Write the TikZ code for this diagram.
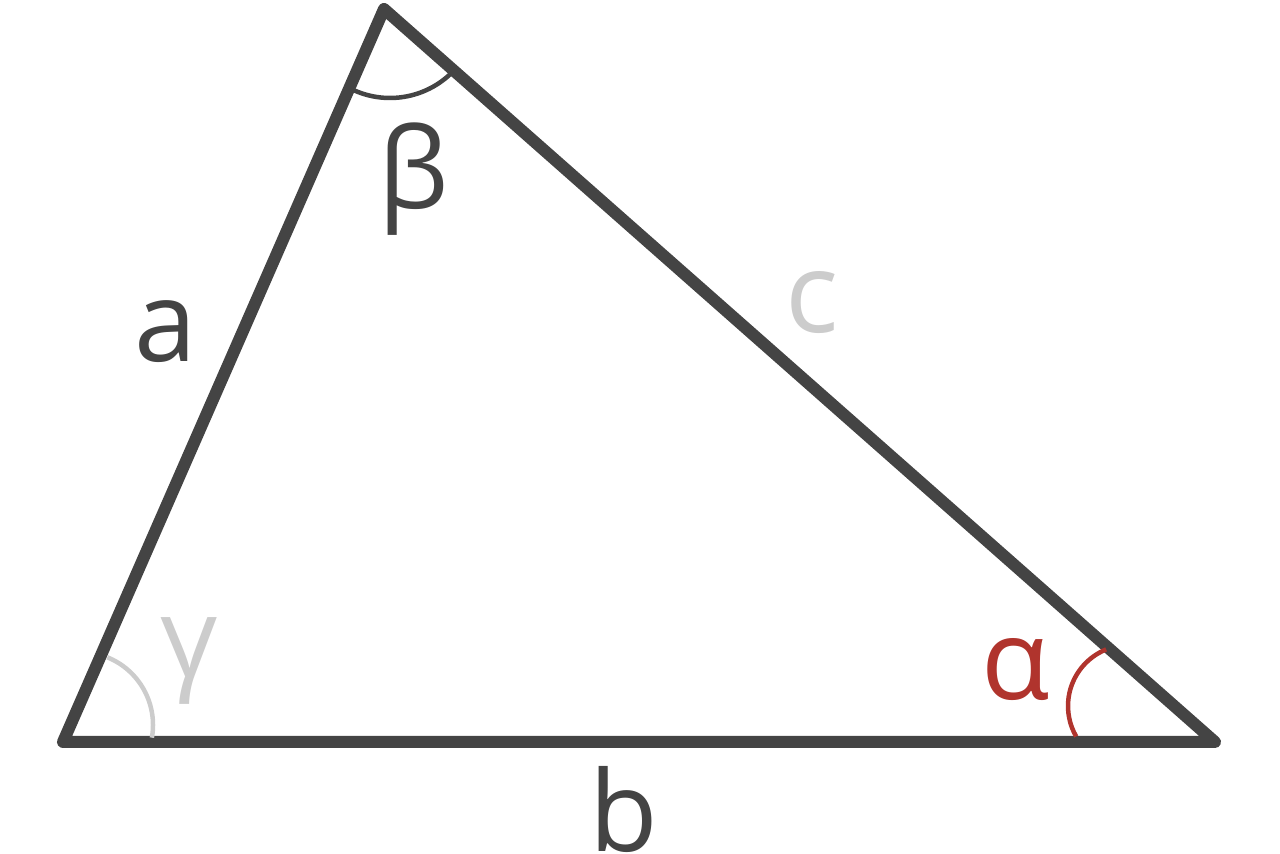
\documentclass[tikz,border=0pt]{standalone}
\usepackage{fontspec}
\setmainfont{Open Sans}
\usetikzlibrary{positioning}
\definecolor{darkgrey}{HTML}{444444}
\definecolor{lightgrey}{HTML}{CCCCCC}
\definecolor{anglered}{HTML}{B0342D}
\tikzstyle{side}=[draw=darkgrey, line width=12pt, line join=round, line cap=round]
\tikzstyle{anglearc}=[line width=4.5pt]
\tikzstyle{letter}=[font=\fontsize{112}{120}\selectfont, inner sep=0pt, anchor=base]

\begin{document}
\begin{tikzpicture}[x=1pt,y=1pt]
\useasboundingbox (0,0) rectangle (1280,854);

\coordinate (C) at (63,112);
\coordinate (B) at (384,845);
\coordinate (A) at (1215,112);
\coordinate (betac) at (390,844);
\coordinate (gammac) at (80,129);
\coordinate (alphac) at (1129,148);

\draw[side] (C) -- (B) -- (A) -- cycle;

%angles
\draw[anglearc, darkgrey] ([shift={(244:88)}]betac) arc[start angle=244, end angle=315, radius=88];
\draw[anglearc, lightgrey] ([shift={(68:73)}]gammac) arc[start angle=68, end angle=-10, radius=73];
\draw[anglearc, anglered] ([shift={(112:61)}]alphac) arc[start angle=112, end angle=210, radius=61];

\node[letter, text=darkgrey] (beta) at (414,645) {β};
\node[letter, text=lightgrey] (gamma) at (189,176) {γ};
\node[letter, text=anglered] (alpha) at (1016,154) {α};
\node[letter, text=darkgrey] (a) at (166,492) {a};
\node[letter, text=darkgrey] (b) at (624,2) {b};
\node[letter, text=lightgrey] (c) at (812,521) {c};

\end{tikzpicture}
\end{document}
